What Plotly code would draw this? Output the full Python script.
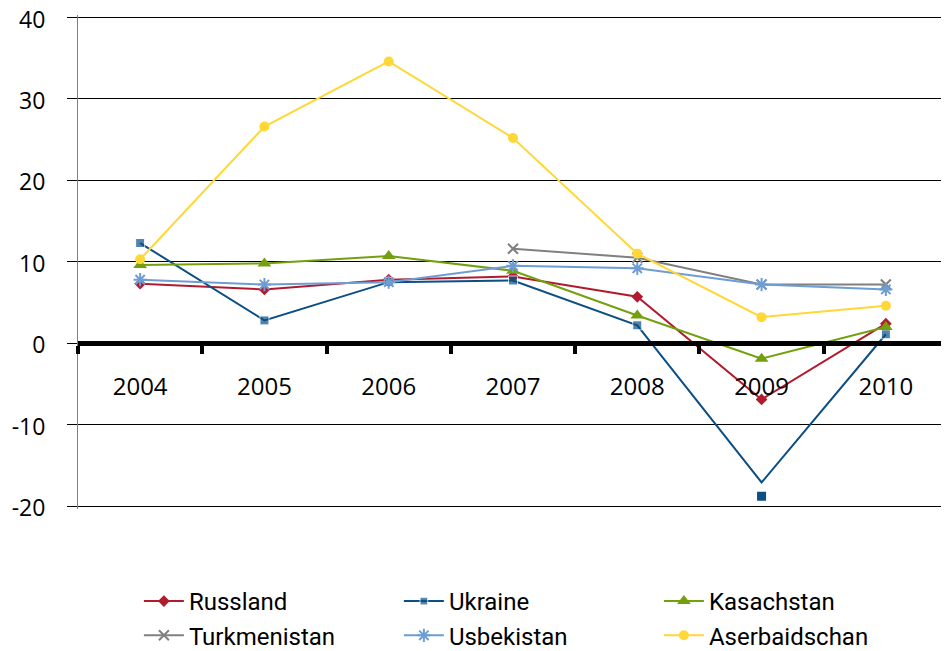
import plotly.graph_objects as go

years = ["2004", "2005", "2006", "2007", "2008", "2009", "2010"]
russland = [7.3, 6.6, 7.8, 8.2, 5.7, -6.9, 2.4]
ukraine = [12.3, 2.8, 7.5, 7.7, 2.2, -17.1, 1.1]
ukraine_markers = [None, None, None, None, None, -18.8, None]
kasachstan = [9.6, 9.8, 10.7, 8.9, 3.4, -1.9, 2.0]
turkmenistan = [None, None, None, 11.6, 10.5, 7.2, 7.2]
usbekistan = [7.8, 7.2, 7.5, 9.5, 9.2, 7.2, 6.6]
aserbaidschan = [10.3, 26.6, 34.6, 25.2, 11.0, 3.2, 4.6]
y_ticks = [-20, -10, 0, 10, 20, 30, 40]
y_ticktext = ["-20", "-10", "0", "10", "20", "30", "40"]

# the page body has an 8px margin, so positions are shifted by that offset
OFF = 8
W, H = 949 - OFF, 651 - OFF + 7
PX_PER_UNIT = 8.15
ZERO = 343 - OFF               # zero line (px from figure top)
PAD = 0.3
Y_LO, Y_HI = -20 - PAD, 40 + PAD
T = ZERO - Y_HI * PX_PER_UNIT
B_AX = ZERO - Y_LO * PX_PER_UNIT
PLOT_H = H - T
L = 78 - OFF

fig = go.Figure()

def add(name, vals, color, symbol, size, mline=None, msize=None):
    marker = dict(symbol=symbol, size=msize if msize is not None else size, color=color)
    if mline:
        marker["line"] = dict(color=color, width=mline)
    fig.add_trace(go.Scatter(x=years, y=vals, name=name, mode="lines+markers",
                             line=dict(color=color, width=2), marker=marker,
                             connectgaps=False))

add("Russland", russland, "#B01C2E", "diamond", 9)
add("Ukraine", ukraine, "#0B4F85", "square", 9,
    msize=[0 if m is not None else 9 for m in ukraine_markers])
fig.add_trace(go.Scatter(x=years, y=ukraine_markers, mode="markers", showlegend=False,
                         marker=dict(symbol="square", size=9, color="#0B4F85")))
add("Kasachstan", kasachstan, "#74A00E", "triangle-up", 12)
add("Turkmenistan", turkmenistan, "#808080", "x-thin-open", 10, mline=2)
add("Usbekistan", usbekistan, "#6D9DD3", "asterisk-open", 11, mline=2)
add("Aserbaidschan", aserbaidschan, "#FFD737", "circle", 10)

fig.update_layout(
    width=W, height=H,
    margin=dict(l=L, r=1, t=T, b=0, autoexpand=False),
    paper_bgcolor="white", plot_bgcolor="white",
    font=dict(family="Open Sans, DejaVu Sans, sans-serif", color="black", size=24),
    xaxis=dict(type="category", categoryorder="array", categoryarray=years,
               range=[-0.5, 6.5], anchor="free", position=(H - ZERO) / PLOT_H,
               showline=True, linecolor="black", linewidth=5,
               ticks="outside", tickson="boundaries", ticklen=8, tickwidth=4,
               tickcolor="black", ticklabelstandoff=20, showgrid=False,
               automargin=False, tickfont=dict(size=24)),
    yaxis=dict(domain=[(H - B_AX) / PLOT_H, 1],
               range=[Y_LO, Y_HI], tickvals=y_ticks, ticktext=y_ticktext,
               showgrid=True, gridcolor="black", gridwidth=1, zeroline=False,
               showline=True, linecolor="#808080", linewidth=1,
               ticks="outside", ticklen=10, tickcolor="black", tickwidth=1,
               ticklabelstandoff=17, ticklabelshift=2, ticklabeloverflow="allow",
               automargin=False, tickfont=dict(size=23)),
    legend=dict(orientation="h", x=0.07, y=0, xanchor="left", yanchor="bottom",
                entrywidth=205, entrywidthmode="pixels", tracegroupgap=0,
                font=dict(family="Roboto, Open Sans, sans-serif", size=24),
                itemwidth=40),
)

fig.write_html("out.html")
